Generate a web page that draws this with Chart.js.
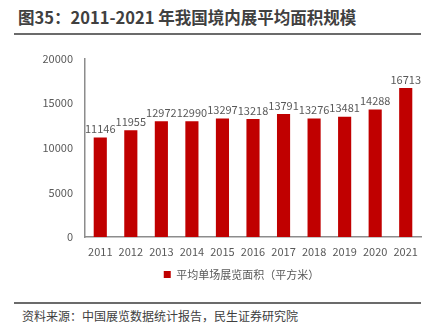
<!DOCTYPE html>
<html>
<head>
<meta charset="utf-8">
<script src="https://cdn.jsdelivr.net/npm/chart.js@4"></script>
<style>
  body { margin: 0; background: #fff; width: 436px; height: 333px; position: relative; overflow: hidden;
         font-family: "Noto Sans CJK SC", "Noto Sans", sans-serif; }
  #title { position: absolute; left: 18px; top: 5px; font-size: 16.5px; font-weight: bold; color: #404040; white-space: nowrap; }
  #topline { position: absolute; left: 14px; top: 33px; width: 407px; height: 2px; background: #6b6b6b; }
  #chartbox { position: absolute; left: 0; top: 40px; width: 436px; height: 250px; }
  #bottomline { position: absolute; left: 14px; top: 302px; width: 407px; height: 2px; background: #6b6b6b; }
  #source { position: absolute; left: 22px; top: 307px; font-size: 12px; color: #404040; white-space: nowrap; }
</style>
</head>
<body>
<div id="title">图35：2011-2021 年我国境内展平均面积规模</div>
<div id="topline"></div>
<div id="chartbox"><canvas id="chart" width="436" height="250"></canvas></div>
<div id="bottomline"></div>
<div id="source">资料来源：中国展览数据统计报告，民生证券研究院</div>
<script>
// 年份
const years = ['2011', '2012', '2013', '2014', '2015', '2016', '2017', '2018', '2019', '2020', '2021'];
// 平均单场展览面积（平方米）
const avgArea = [11146, 11955, 12972, 12990, 13297, 13218, 13791, 13276, 13481, 14288, 16713];
const seriesName = '平均单场展览面积（平方米）';
const yTicks = [0, 5000, 10000, 15000, 20000];

const textColor = '#595959';
const fontFamily = '"Noto Sans CJK SC", "Noto Sans", sans-serif';

// 柱顶数值标签
const barLabels = {
    id: 'barLabels',
    afterDatasetsDraw(chart) {
        const ctx = chart.ctx;
        const meta = chart.getDatasetMeta(0);
        ctx.save();
        ctx.font = '11px ' + fontFamily;
        ctx.fillStyle = textColor;
        ctx.textAlign = 'center';
        ctx.textBaseline = 'bottom';
        meta.data.forEach((bar, i) => {
            ctx.fillText(String(avgArea[i]), bar.x, bar.y - 3);
        });
        ctx.restore();
    }
};

// 图例整体右移
const legendShift = {
    id: 'legendShift',
    afterLayout(chart) {
        chart.legend.left += 31;
        chart.legend.right += 31;
    }
};

new Chart(document.getElementById('chart'), {
    type: 'bar',
    data: {
        labels: years,
        datasets: [{
            label: seriesName,
            data: avgArea,
            backgroundColor: '#C00000',
            barPercentage: 0.43,
            categoryPercentage: 1
        }]
    },
    options: {
        responsive: false,
        animation: false,
        layout: { padding: { left: 0, right: 15, top: 17, bottom: 0 } },
        plugins: {
            legend: {
                position: 'bottom',
                labels: {
                    boxWidth: 7,
                    boxHeight: 7,
                    padding: 6,
                    color: textColor,
                    font: { size: 11, family: fontFamily }
                }
            },
            tooltip: { enabled: false }
        },
        scales: {
            x: {
                grid: { display: false, drawTicks: false },
                border: { display: true, color: '#8c8c8c', width: 1.5 },
                ticks: { color: textColor, font: { size: 11, family: fontFamily }, padding: 8, maxRotation: 0 },
                afterFit(scale) { scale.height = 26; }
            },
            y: {
                min: 0,
                max: 20000,
                afterBuildTicks(scale) { scale.ticks = yTicks.map(v => ({ value: v })); },
                grid: { display: false, drawTicks: false },
                border: { display: true, color: '#8c8c8c', width: 1.5 },
                ticks: { color: textColor, font: { size: 11, family: fontFamily }, padding: 12, callback: v => String(v) },
                afterFit(scale) { scale.width = 85; }
            }
        }
    },
    plugins: [barLabels, legendShift]
});
</script>
</body>
</html>
